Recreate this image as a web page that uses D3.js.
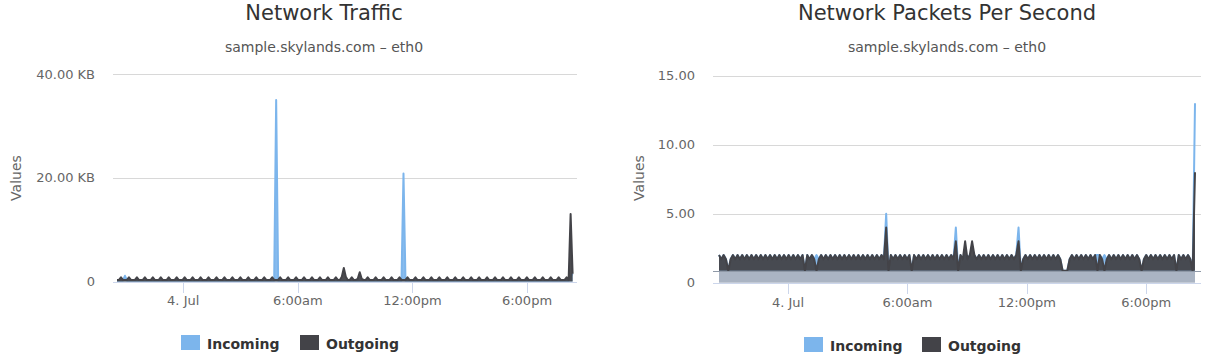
<!DOCTYPE html>
<html><head><meta charset="utf-8">
<script src="https://cdn.jsdelivr.net/npm/d3@7"></script>
<style>body{margin:0;background:#fff}svg{display:block}text{font-family:"DejaVu Sans",sans-serif}</style>
</head><body><svg id="c" width="1210" height="363"></svg>
<script>
// ---------------- data ----------------
const seriesNames = ["Incoming", "Outgoing"];
const seriesColors = ["#7cb5ec", "#434348"];
const startTime = new Date(2016, 6, 3, 20, 32);
const trafficStepMin = 6.25;
const packetsStepMin = 7;
const timeTicks = [new Date(2016,6,4,0,0), new Date(2016,6,4,6,0), new Date(2016,6,4,12,0), new Date(2016,6,4,18,0)];
const timeTickLabels = ["4. Jul", "6:00am", "12:00pm", "6:00pm"];
const trafficTicks = [0, 20, 40];
const trafficTickLabels = ["0", "20.00 KB", "40.00 KB"];
const packetsTicks = [0, 5, 10, 15];
const packetsTickLabels = ["0", "5.00", "10.00", "15.00"];
const packetsBase = [0.87];

// Network Traffic (KB), 230 samples
const trafficIncoming = [
0.2,0.2,0.2,0.2,1.1,0.2,0.2,0.2,0.2,0.2,
0.2,0.2,0.2,0.2,0.2,0.2,0.2,0.2,0.2,0.2,
0.2,0.2,0.2,0.2,0.2,0.2,0.2,0.2,0.2,0.2,
0.2,0.2,0.2,0.2,0.2,0.2,0.2,0.2,0.2,0.2,
0.2,0.2,0.2,0.2,0.2,0.2,0.2,0.2,0.2,0.2,
0.2,0.2,0.2,0.2,0.2,0.2,0.2,0.2,0.2,0.2,
0.2,0.2,0.2,0.2,0.2,0.2,0.2,0.2,0.2,0.2,
0.2,0.2,0.2,0.2,0.2,0.2,0.2,0.2,0.2,0.2,
35,0.2,0.2,0.2,0.2,0.2,0.2,0.2,0.2,0.2,
0.2,0.2,0.2,0.2,0.2,0.2,0.2,0.2,0.2,0.2,
0.2,0.2,0.2,0.2,0.2,0.2,0.2,0.2,0.2,0.2,
0.2,0.2,0.2,0.2,0.2,0.2,0.2,0.2,0.2,0.2,
0.2,0.2,0.2,0.2,0.2,0.2,0.2,0.2,0.2,0.2,
0.2,0.2,0.2,0.2,0.2,0.2,0.2,0.2,0.2,0.2,
0.2,0.2,0.2,0.2,20.8,0.2,0.2,0.2,0.2,0.2,
0.2,0.2,0.2,0.2,0.2,0.2,0.2,0.2,0.2,0.2,
0.2,0.2,0.2,0.2,0.2,0.2,0.2,0.2,0.2,0.2,
0.2,0.2,0.2,0.2,0.2,0.2,0.2,0.2,0.2,0.2,
0.2,0.2,0.2,0.2,0.2,0.2,0.2,0.2,0.2,0.2,
0.2,0.2,0.2,0.2,0.2,0.2,0.2,0.2,0.2,0.2,
0.2,0.2,0.2,0.2,0.2,0.2,0.2,0.2,0.2,0.2,
0.2,0.2,0.2,0.2,0.2,0.2,0.2,0.2,0.2,0.2,
0.2,0.2,0.2,0.2,0.2,0.2,0.2,0.2,1.0,1.5
];
const trafficOutgoing = [
0.3,0.3,0.8,0.3,0.3,0.3,0.8,0.3,0.3,0.3,
0.8,0.3,0.3,0.3,0.8,0.3,0.3,0.3,0.8,0.3,
0.3,0.3,0.8,0.3,0.3,0.3,0.8,0.3,0.3,0.3,
0.8,0.3,0.3,0.3,0.8,0.3,0.3,0.3,0.8,0.3,
0.3,0.3,0.8,0.3,0.3,0.3,0.8,0.3,0.3,0.3,
0.8,0.3,0.3,0.3,0.8,0.3,0.3,0.3,0.8,0.3,
0.3,0.3,0.8,0.3,0.3,0.3,0.8,0.3,0.3,0.3,
0.8,0.3,0.3,0.3,0.8,0.3,0.3,0.3,0.8,0.3,
0.3,0.3,0.8,0.3,0.3,0.3,0.8,0.3,0.3,0.3,
0.8,0.3,0.3,0.3,0.8,0.3,0.3,0.3,0.8,0.3,
0.3,0.3,0.8,0.3,0.3,0.3,0.8,0.3,0.3,0.3,
0.8,0.3,0.3,0.9,2.6,0.9,0.3,0.3,0.8,0.3,
0.3,0.5,1.8,0.5,0.3,0.3,0.8,0.3,0.3,0.3,
0.8,0.3,0.3,0.3,0.8,0.3,0.3,0.3,0.8,0.3,
0.3,0.3,0.8,0.3,0.3,0.3,0.8,0.3,0.3,0.3,
0.8,0.3,0.3,0.3,0.8,0.3,0.3,0.3,0.8,0.3,
0.3,0.3,0.8,0.3,0.3,0.3,0.8,0.3,0.3,0.3,
0.8,0.3,0.3,0.3,0.8,0.3,0.3,0.3,0.8,0.3,
0.3,0.3,0.8,0.3,0.3,0.3,0.8,0.3,0.3,0.3,
0.8,0.3,0.3,0.3,0.8,0.3,0.3,0.3,0.8,0.3,
0.3,0.3,0.8,0.3,0.3,0.3,0.8,0.3,0.3,0.3,
0.8,0.3,0.3,0.3,0.8,0.3,0.3,0.3,0.8,0.3,
0.3,0.3,0.8,0.3,0.3,0.3,0.8,0.3,13,1.5
];

// Network Packets Per Second, 206 samples
const packetsIncoming = [
2,1.7,2,1.7,0.87,1.7,2,1.7,2,1.7,
2,1.7,2,1.7,2,1.7,2,1.7,2,1.7,
2,1.7,2,1.7,2,1.7,2,1.7,2,1.7,
2,1.7,2,1.7,2,1.7,2,0.87,2,1.7,
2,1.7,2,1.7,2,1.7,2,1.7,2,1.7,
2,1.7,2,1.7,2,1.7,2,1.7,2,1.7,
2,1.7,2,1.7,2,1.7,2,1.7,2,1.7,
2,1.7,5,0.87,2,1.7,2,1.7,2,1.7,
2,1.7,2,0.87,2,1.7,2,1.7,2,1.7,
2,1.7,2,1.7,2,1.7,2,1.7,2,1.7,
2,1.7,4,0.87,2,1.7,2,1.7,2,1.7,
2,1.7,2,1.7,2,1.7,2,1.7,2,1.7,
2,1.7,2,1.7,2,1.7,2,1.7,2,4,
0.87,1.7,2,1.7,2,1.7,2,1.7,2,1.7,
2,1.7,2,1.7,2,1.7,2,1.7,0.87,0.87,
0.87,1.7,2,1.7,2,1.7,2,1.7,2,1.7,
2,1.7,2,2,2,1.7,2,1.7,2,1.7,
2,1.7,2,1.7,2,1.7,2,1.7,2,1.7,
2,1.7,0.87,1.7,2,1.7,2,1.7,2,1.7,
2,1.7,2,1.7,2,1.7,2,0.87,2,1.7,
2,1.7,2,1.7,0.87,13
];
const packetsOutgoing = [
2,1.7,2,1.7,0.87,1.7,2,1.7,2,1.7,
2,1.7,2,1.7,2,1.7,2,1.7,2,1.7,
2,1.7,2,1.7,2,1.7,2,1.7,2,1.7,
2,1.7,2,1.7,2,1.7,2,0.87,2,1.7,
2,1.7,0.87,1.7,2,1.7,2,1.7,2,1.7,
2,1.7,2,1.7,2,1.7,2,1.7,2,1.7,
2,1.7,2,1.7,2,1.7,2,1.7,2,1.7,
2,1.7,4,0.87,2,1.7,2,1.7,2,1.7,
2,1.7,2,0.87,2,1.7,2,1.7,2,1.7,
2,1.7,2,1.7,2,1.7,2,1.7,2,1.7,
2,1.7,3,0.87,2,1.7,3,1.7,2,3,
2,1.7,2,1.7,2,1.7,2,1.7,2,1.7,
2,1.7,2,1.7,2,1.7,2,1.7,2,3,
0.87,1.7,2,1.7,2,1.7,2,1.7,2,1.7,
2,1.7,2,1.7,2,1.7,2,1.7,0.87,0.87,
0.87,1.7,2,1.7,2,1.7,2,1.7,2,1.7,
2,1.7,2,0.87,2,1.7,0.87,1.7,2,1.7,
2,1.7,2,1.7,2,1.7,2,1.7,2,1.7,
2,1.7,0.87,1.7,2,1.7,2,1.7,2,1.7,
2,1.7,2,1.7,2,1.7,2,0.87,2,1.7,
2,1.7,2,1.7,0.87,8
];

// ---------------- drawing ----------------
const svg = d3.select("#c");
svg.append("rect").attr("width",1210).attr("height",363).attr("fill","#fff");

function timesFor(n, stepMin) {
  return d3.range(n).map(i => new Date(startTime.getTime() + i * stepMin * 60000));
}

function drawChart(cfg) {
  const g = svg.append("g");
  const times = timesFor(cfg.series[0].length, cfg.stepMin);
  const x = d3.scaleTime().domain([times[0], times[times.length-1]]).range(cfg.xRange);
  const y = d3.scaleLinear().domain(cfg.yDomain).range(cfg.yRange);
  const base = cfg.base;

  // title & subtitle
  g.append("text").attr("x", cfg.cx).attr("y", 20).attr("text-anchor","middle")
    .attr("font-size", 21).attr("fill","#333").text(cfg.title);
  g.append("text").attr("x", cfg.cx).attr("y", 52).attr("text-anchor","middle")
    .attr("font-size", 14).attr("fill","#555").text(cfg.subtitle);

  // base band
  if (base > 0) {
    g.append("rect").attr("x", x(times[0])).attr("y", y(base))
      .attr("width", x(times[times.length-1]) - x(times[0]))
      .attr("height", y(0) - y(base)).attr("fill", "#aab4c3");
  }

  // grid
  g.selectAll(".grid").data(cfg.yTicks).enter().append("line")
    .attr("x1", cfg.gridX[0]).attr("x2", cfg.gridX[1])
    .attr("y1", d => Math.round(y(d)) + 0.5).attr("y2", d => Math.round(y(d)) + 0.5)
    .attr("stroke", d => d === 0 ? "#ccd6eb" : "#d8d8d8").attr("stroke-width", 1);

  // y labels
  g.selectAll(".yl").data(cfg.yTicks).enter().append("text")
    .attr("x", cfg.yLabelX).attr("y", d => y(d)).attr("dy","0.35em")
    .attr("text-anchor","end").attr("font-size", 13).attr("fill","#666")
    .text((d,i) => cfg.yTickLabels[i]);

  // y axis title
  g.append("text").attr("transform", `translate(${cfg.yTitleX},178) rotate(-90)`)
    .attr("text-anchor","middle").attr("font-size", 14).attr("fill","#666").text("Values");

  // areas
  cfg.series.forEach((vals, si) => {
    const pts = vals.map((v,i) => [times[i], v]);
    const area = d3.area().x(d => x(d[0])).y0(y(base)).y1(d => y(d[1]));
    const line = d3.line().x(d => x(d[0])).y(d => y(d[1]));
    g.append("path").attr("d", area(pts)).attr("fill", seriesColors[si]).attr("fill-opacity", si === 0 ? 0.9 : 0.95);
    g.append("path").attr("d", line(pts)).attr("fill","none").attr("stroke", seriesColors[si])
      .attr("stroke-width", 2).attr("stroke-linejoin","round");
  });

  // x axis line at base
  if (base > 0) {
    g.append("line").attr("x1", cfg.gridX[0]).attr("x2", cfg.gridX[1])
      .attr("y1", Math.round(y(base)) + 0.5).attr("y2", Math.round(y(base)) + 0.5)
      .attr("stroke", "#8f99a7").attr("stroke-width", 1);
  }

  // x ticks
  const tickTop = Math.round(y(0)) + 1;
  g.selectAll(".xt").data(timeTicks).enter().append("line")
    .attr("x1", d => Math.round(x(d)) + 0.5).attr("x2", d => Math.round(x(d)) + 0.5)
    .attr("y1", tickTop).attr("y2", tickTop + 10).attr("stroke","#ccd6eb");
  g.selectAll(".xl").data(timeTicks).enter().append("text")
    .attr("x", d => x(d)).attr("y", cfg.xLabelY).attr("text-anchor","middle")
    .attr("font-size", 13).attr("fill","#666").text((d,i) => timeTickLabels[i]);

  // legend
  const lg = g.append("g");
  cfg.legendX.forEach((lx, i) => {
    lg.append("rect").attr("x", lx).attr("y", cfg.legendY - 8).attr("width", 19).attr("height", 15)
      .attr("fill", seriesColors[i]);
    lg.append("text").attr("x", lx + 26).attr("y", cfg.legendY + 5.5).attr("font-size", 14)
      .attr("font-weight","bold").attr("fill","#333").text(seriesNames[i]);
  });
}

drawChart({
  title: "Network Traffic", subtitle: "sample.skylands.com \u2013 eth0", cx: 324,
  series: [trafficIncoming, trafficOutgoing], stepMin: trafficStepMin,
  xRange: [117, 572.6], gridX: [113, 577],
  yDomain: [0, 40], yRange: [281.5, 74], base: 0,
  yTicks: trafficTicks, yTickLabels: trafficTickLabels, yLabelX: 95,
  yTitleX: 21, xLabelY: 305, legendX: [181, 300], legendY: 343
});
drawChart({
  title: "Network Packets Per Second", subtitle: "sample.skylands.com \u2013 eth0", cx: 947,
  series: [packetsIncoming, packetsOutgoing], stepMin: packetsStepMin,
  xRange: [719, 1195], gridX: [713, 1201],
  yDomain: [0, 15], yRange: [282.7, 75.7], base: packetsBase[0],
  yTicks: packetsTicks, yTickLabels: packetsTickLabels, yLabelX: 695,
  yTitleX: 644, xLabelY: 307, legendX: [804, 922], legendY: 345
});
</script></body></html>
